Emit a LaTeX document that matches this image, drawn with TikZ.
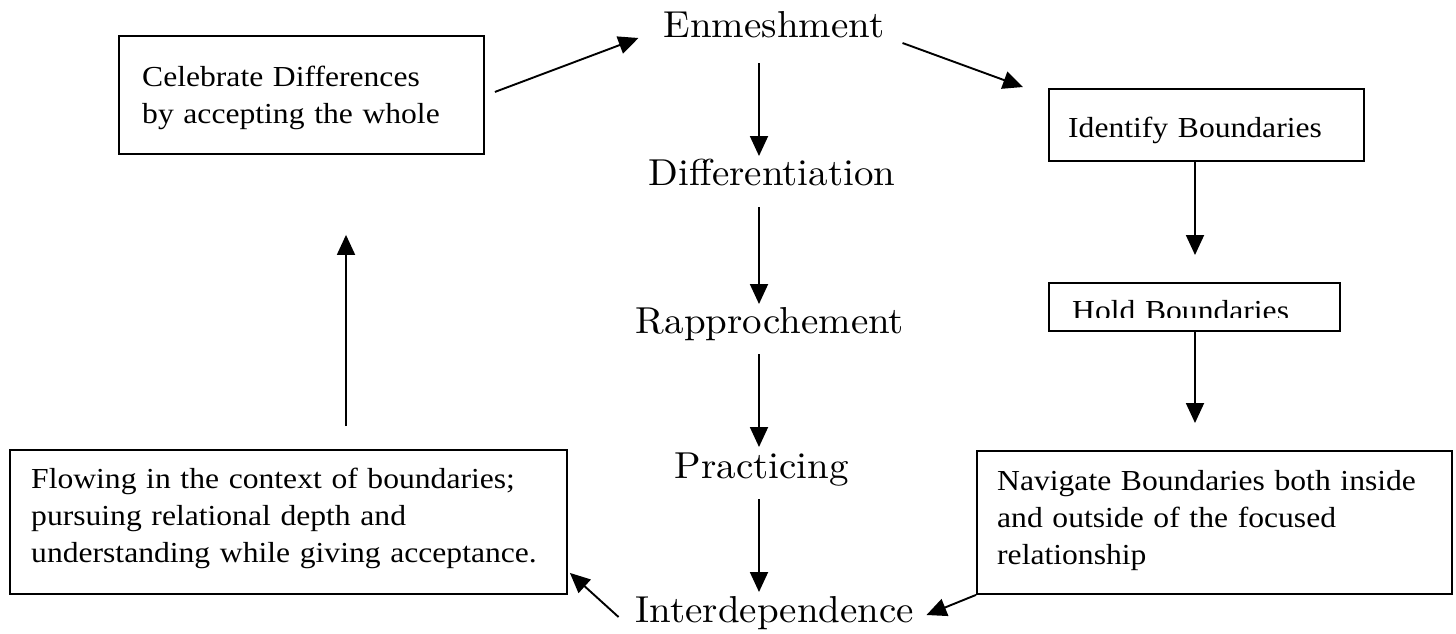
\documentclass[tikz,border=0pt]{standalone}
\usepackage{fontspec}
\usetikzlibrary{arrows.meta,calc}
\newfontfamily\boxfont[FakeStretch=1.09]{Liberation Serif}
\newfontfamily\ctrfont[FakeStretch=1.04]{lmroman10-regular.otf}
\begin{document}
\begin{tikzpicture}[x=1pt,y=-1pt,
  box/.style={draw, line width=1.9pt, inner sep=0pt, anchor=north west},
  txt/.style={font=\boxfont\fontsize{29}{37}\selectfont, align=left, text width=#1, anchor=base west, inner sep=0pt},
  txt/.default=500pt,
  ctr/.style={font=\ctrfont\fontsize{37.5}{42}\selectfont, anchor=base, inner sep=0pt},
  arr/.style={line width=1.9pt, -{Triangle[length=20pt,width=18pt]}}]
\useasboundingbox[fill=white] (0,0) rectangle (1456,633);

% boxes
\node[box, minimum width=365pt, minimum height=118pt] (cel) at (118,35) {};
\node[txt=340pt] (celt) at (142,86) {Celebrate Differences\\by accepting the whole};

\node[box, minimum width=315pt, minimum height=72pt] (iden) at (1048,88) {};
\node[txt=290pt] (ident) at (1068,137) {Identify Boundaries};

\node[box, minimum width=291pt, minimum height=48pt] (hold) at (1048,282) {};
\begin{scope}
  \clip (1048,282) rectangle (1339,317);
  \node[txt=260pt] (holdt) at (1072,320) {Hold Boundaries};
\end{scope}

\node[box, minimum width=557pt, minimum height=144pt] (flow) at (9,449) {};
\node[txt=540pt] (flowt) at (31,488) {Flowing in the context of boundaries;\\pursuing relational depth and\\understanding while giving acceptance.};

\node[box, minimum width=475pt, minimum height=143pt] (nav) at (976,450) {};
\node[txt=450pt] (navt) at (997,490) {Navigate Boundaries both inside\\and outside of the focused\\relationship};

% centre column
\node[ctr] (enm)  at (774,37)  {Enmeshment};
\node[ctr] (diff) at (772,185) {Differentiation};
\node[ctr] (rap)  at (770,333) {Rapprochement};
\node[ctr] (prac) at (762,478) {Practicing};
\node[ctr] (int)  at (775,622) {Interdependence};

\coordinate (vx) at (759,0);
\coordinate (hx) at (1195,0);
\coordinate (fx) at (346,0);

% arrows
\draw[arr] ($(cel.east)+(10,-3)$) -- ($(enm.base west)+(-25,1)$);
\draw[arr] ($(enm.base east)+(18,6)$) -- ($(iden.north west)+(-25,-1)$);
\draw[arr] ($(vx|-enm.base)+(0,26)$) -- ($(vx|-diff.base)+(0,-29)$);
\draw[arr] ($(vx|-diff.base)+(0,22)$) -- ($(vx|-rap.base)+(0,-29)$);
\draw[arr] ($(vx|-rap.base)+(0,21)$) -- ($(vx|-prac.base)+(0,-31)$);
\draw[arr] ($(vx|-prac.base)+(0,21)$) -- ($(vx|-int.base)+(0,-30)$);
\draw[arr] (hx|-iden.south) -- ($(hx|-hold.north)+(0,-27)$);
\draw[arr] (hx|-hold.south) -- ($(hx|-nav.north)+(0,-27)$);
\draw[arr] ($(fx|-flow.north)+(0,-23)$) -- ($(fx|-cel.south)+(0,80)$);
\draw[arr] ($(int.base west)+(-17,-5)$) -- ($(flow.south east)+(2,-22)$);
\draw[arr] (nav.south west) -- ($(int.base east)+(12,-7)$);
\end{tikzpicture}
\end{document}
